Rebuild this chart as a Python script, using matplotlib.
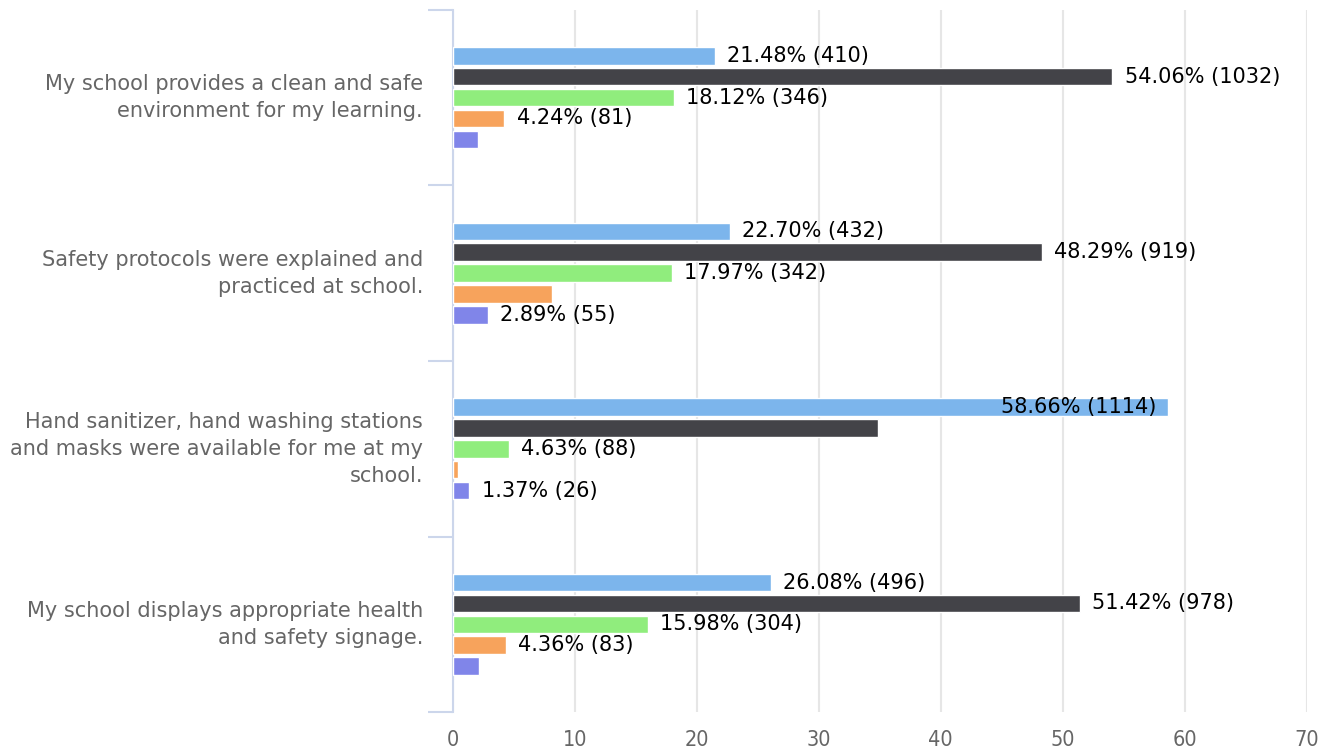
import matplotlib.pyplot as plt
import numpy as np

plt.rcParams['font.family'] = ['DejaVu Sans']

categories = [
    "My school provides a clean and safe\nenvironment for my learning.",
    "Safety protocols were explained and\npracticed at school.",
    "Hand sanitizer, hand washing stations\nand masks were available for me at my\nschool.",
    "My school displays appropriate health\nand safety signage.",
]

# percentages per series (one value per category)
series_1 = [21.48, 22.70, 58.66, 26.08]
series_2 = [54.06, 48.29, 34.85, 51.42]
series_3 = [18.12, 17.97, 4.63, 15.98]
series_4 = [4.24, 8.14, 0.40, 4.36]
series_5 = [2.10, 2.89, 1.37, 2.16]

# data labels (None = label hidden in the original)
labels_1 = ["21.48% (410)", "22.70% (432)", "58.66% (1114)", "26.08% (496)"]
labels_2 = ["54.06% (1032)", "48.29% (919)", None, "51.42% (978)"]
labels_3 = ["18.12% (346)", "17.97% (342)", "4.63% (88)", "15.98% (304)"]
labels_4 = ["4.24% (81)", None, None, "4.36% (83)"]
labels_5 = [None, "2.89% (55)", "1.37% (26)", None]

colors = ["#7cb5ec", "#434348", "#90ed7d", "#f7a35c", "#8085e9"]

fig = plt.figure(figsize=(13.2, 7.52), dpi=100)
ax = fig.add_axes([0.343, 0.053, 0.647, 0.934])

series = [series_1, series_2, series_3, series_4, series_5]
labels = [labels_1, labels_2, labels_3, labels_4, labels_5]
y = np.arange(len(categories))
pitch = 0.119
height = 0.10

for i, (vals, labs) in enumerate(zip(series, labels)):
    offs = y + (i - 2) * pitch
    ax.barh(offs, vals, height=height, color=colors[i], edgecolor="white",
            linewidth=1, zorder=3)
    for yy, v, lab in zip(offs, vals, labs):
        if lab is None:
            continue
        if v > 55:
            ax.text(v - 1.0, yy, lab, ha="right", va="center", fontsize=15,
                    color="black", zorder=4)
        else:
            ax.text(v + 1.0, yy, lab, ha="left", va="center", fontsize=15,
                    color="black", zorder=4)

ax.set_xlim(0, 70)
ax.set_ylim(3.5, -0.5)
ax.set_xticks(np.arange(0, 71, 10))
ax.xaxis.grid(True, color="#e6e6e6", linewidth=1.5, zorder=0)
ax.tick_params(axis="x", length=0, pad=13, labelsize=15.5, labelcolor="#666666")
for t in ax.get_xticklabels():
    t.set_fontstretch("condensed")

ax.set_yticks(np.arange(-0.5, 3.6, 1))
ax.set_yticklabels([])
ax.tick_params(axis="y", length=18, color="#ccd6eb", width=1.5)

for s in ["top", "right", "bottom"]:
    ax.spines[s].set_visible(False)
ax.spines["left"].set_color("#ccd6eb")
ax.spines["left"].set_linewidth(1.5)

for yy, cat in zip(y, categories):
    ax.annotate(cat, xy=(0, yy), xycoords="data", xytext=(-21.5, 0),
                textcoords="offset points", ha="right", va="center",
                fontsize=15, color="#666666", linespacing=1.45)

fig.savefig("out.png", dpi=100)
